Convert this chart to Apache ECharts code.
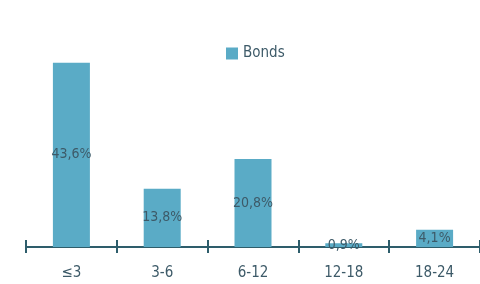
<!DOCTYPE html>
<html>
<head>
<meta charset="utf-8">
<script src="https://cdn.jsdelivr.net/npm/echarts@6/dist/echarts.min.js"></script>
<style>
  html, body { margin: 0; padding: 0; background: #fff; }
  #chart { width: 480px; height: 284px; }
</style>
</head>
<body>
<div id="chart"></div>
<script>
var categories = ['≤3', '3-6', '6-12', '12-18', '18-24'];
var bondValues = [43.6, 13.8, 20.8, 0.9, 4.1];
var bondLabels = ['43,6%', '13,8%', '20,8%', '0,9%', '4,1%'];

var chartDom = document.getElementById('chart');
var myChart = echarts.init(chartDom);
var font = "'DejaVu Sans Condensed', Roboto, sans-serif";
var axisColor = '#2e5d6b';
var textColor = '#3d5a68';

var option = {
  animation: false,
  textStyle: { fontFamily: font },
  legend: {
    data: ['Bonds'],
    icon: 'rect',
    top: 41,
    left: 221,
    itemWidth: 12,
    itemHeight: 12,
    itemGap: 6,
    textStyle: { color: textColor, fontSize: 15, fontFamily: font }
  },
  grid: { left: 26, right: -4, top: 61, bottom: 37 },
  xAxis: [
    {
      type: 'category',
      data: categories,
      axisLine: { lineStyle: { color: axisColor, width: 2 } },
      axisTick: { show: true, length: 6, lineStyle: { color: axisColor, width: 2 } },
      axisLabel: { color: textColor, fontSize: 15, margin: 19, fontFamily: font }
    },
    {
      type: 'category',
      data: categories,
      position: 'bottom',
      axisLine: { show: false },
      axisTick: { show: true, inside: true, length: 7, lineStyle: { color: axisColor, width: 2 } },
      axisLabel: { show: false }
    }
  ],
  yAxis: {
    type: 'value',
    min: 0,
    max: 44,
    show: false
  },
  series: [
    {
      name: 'Bonds',
      type: 'bar',
      barWidth: 37,
      data: bondValues,
      z: 1,
      itemStyle: { color: '#5aabc6' },
      label: {
        show: true,
        position: 'inside',
        color: textColor,
        fontSize: 14,
        fontFamily: font,
        formatter: function (p) { return bondLabels[p.dataIndex]; }
      }
    }
  ]
};

myChart.setOption(option);
</script>
</body>
</html>
